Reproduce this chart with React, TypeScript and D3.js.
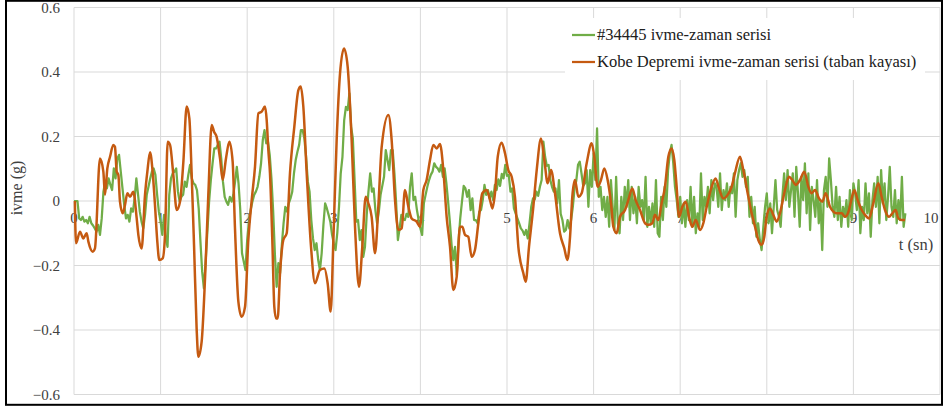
import React from "react";
import * as d3 from "d3";

// Record #34445 acceleration (g), sampled every 0.02 s from t = 0
const SAMPLE_STEP = 0.02;
const record34445 = [
  0.00, 0.00, 0.00, -0.054, -0.059, -0.049, -0.064, -0.059, -0.069, -0.049,
  -0.069, -0.076, -0.085, -0.095, -0.074, -0.105, -0.054, 0.029, 0.060, 0.039,
  0.070, 0.050, 0.034, 0.101, 0.070, 0.132, 0.143, 0.091, 0.039, -0.012,
  -0.054, -0.043, -0.064, -0.023, -0.033, 0.008, 0.070, 0.019, -0.033, -0.064,
  -0.085, -0.043, 0.019, 0.044, 0.070, 0.091, 0.101, 0.081, 0.019, -0.033,
  -0.064, -0.105, -0.043, -0.116, -0.142, 0.019, 0.070, 0.086, 0.091, 0.101,
  0.029, -0.002, 0.013, 0.019, 0.060, 0.044, 0.081, 0.112, 0.070, 0.055,
  0.050, 0.034, -0.023, -0.126, -0.219, -0.271, -0.188, -0.095, -0.002, 0.065,
  0.117, 0.163, 0.163, 0.174, 0.184, 0.132, 0.060, 0.013, -0.002, -0.012,
  0.013, -0.002, 0.019, 0.060, 0.106, 0.055, -0.028, -0.162, -0.188, -0.214,
  -0.121, -0.064, -0.028, -0.002, 0.019, 0.029, 0.044, 0.075, 0.117, 0.189,
  0.220, 0.179, 0.184, 0.143, 0.070, -0.033, -0.167, -0.266, -0.193, -0.224,
  -0.136, -0.069, -0.018, -0.033, -0.007, 0.008, 0.029, 0.086, 0.127, 0.153,
  0.174, 0.220, 0.220, 0.194, 0.137, 0.060, 0.029, -0.059, -0.116, -0.152,
  -0.131, -0.183, -0.214, -0.162, -0.074, -0.007, -0.023, -0.043, -0.064, -0.105,
  -0.131, -0.152, -0.100, -0.018, 0.086, 0.137, 0.251, 0.292, 0.282, 0.334,
  0.230, 0.194, 0.065, -0.064, -0.059, -0.121, -0.090, -0.173, -0.142, -0.043,
  0.029, 0.086, 0.029, 0.039, -0.028, -0.069, -0.033, 0.019, 0.047, 0.075,
  0.158, 0.127, 0.096, 0.158, 0.158, 0.086, -0.007, -0.121, -0.085, -0.043,
  -0.057, -0.059, -0.040, -0.049, 0.044, 0.086, 0.003, 0.013, -0.028, -0.059,
  -0.085, -0.105, -0.007, 0.019, 0.044, 0.065, 0.081, 0.091, 0.117, 0.106,
  0.101, 0.091, 0.112, 0.075, 0.101, 0.055, -0.002, -0.064, -0.136, -0.183,
  -0.142, -0.229, -0.126, -0.054, -0.002, 0.047, 0.039, 0.013, 0.034, -0.028,
  0.008, -0.059, -0.059, -0.069, -0.033, -0.028, 0.003, 0.050, 0.019, 0.034,
  0.008, 0.029, 0.003, 0.050, 0.034, 0.067, 0.047, 0.084, 0.070, 0.112,
  0.078, 0.081, 0.029, 0.039, -0.023, -0.038, -0.054, -0.069, -0.085, -0.092,
  -0.105, -0.090, -0.116, -0.069, -0.018, 0.008, 0.005, 0.029, 0.016, 0.044,
  0.065, 0.184, 0.137, 0.109, 0.112, 0.065, 0.044, 0.029, 0.039, -0.007,
  0.065, -0.040, -0.059, -0.095, -0.090, -0.059, -0.085, -0.059, -0.018, 0.039,
  0.063, 0.112, 0.122, 0.086, 0.047, 0.055, 0.096, -0.018, 0.096, 0.044,
  0.148, 0.065, 0.225, 0.013, 0.044, -0.028, 0.013, -0.049, 0.013, -0.080,
  0.065, -0.018, -0.090, 0.075, -0.069, -0.100, 0.013, -0.059, 0.044, -0.018,
  0.065, -0.059, 0.044, -0.038, 0.013, -0.069, 0.044, -0.018, 0.003, -0.059,
  0.075, -0.080, -0.018, -0.069, -0.007, -0.080, 0.065, -0.100, -0.111, 0.013,
  -0.059, 0.044, -0.018, 0.096, 0.148, 0.174, 0.117, 0.044, 0.003, -0.049,
  0.013, -0.069, -0.007, -0.080, 0.003, -0.059, 0.044, -0.080, 0.013, -0.100,
  -0.038, -0.080, 0.086, -0.059, 0.013, -0.018, 0.044, -0.038, 0.065, 0.003,
  0.055, 0.044, -0.018, 0.086, -0.028, 0.034, 0.003, 0.055, -0.018, 0.044,
  0.024, 0.086, -0.049, 0.065, 0.096, 0.117, 0.075, 0.096, 0.044, 0.075,
  -0.049, 0.013, -0.069, -0.018, -0.111, -0.069, -0.121, -0.152, -0.080, -0.018,
  0.024, -0.069, -0.007, -0.100, -0.018, 0.065, -0.028, -0.049, -0.080, 0.013,
  0.086, 0.003, 0.096, -0.018, 0.034, 0.086, -0.049, 0.106, 0.024, -0.080,
  0.075, 0.003, 0.117, -0.038, 0.086, -0.090, 0.044, 0.003, -0.049, 0.065,
  -0.069, 0.003, -0.152, 0.034, 0.075, -0.018, 0.132, 0.065, -0.018, -0.049,
  0.044, -0.059, 0.013, -0.080, -0.018, -0.049, 0.003, -0.080, 0.034, -0.059,
  0.055, 0.024, -0.028, 0.065, -0.100, -0.018, -0.059, 0.055, -0.038, 0.024,
  -0.111, 0.003, 0.055, -0.018, 0.075, -0.069, 0.096, -0.007, 0.055, -0.059,
  0.013, 0.106, -0.018, -0.049, 0.034, -0.069, 0.003, -0.059, 0.075, -0.080,
  -0.038,
];

// Kobe earthquake bedrock record: time (s) and acceleration (g)
const kobeTime = [
  0.01, 0.023, 0.069, 0.108, 0.146, 0.166, 0.216, 0.242, 0.300, 0.339,
  0.358, 0.385, 0.416, 0.454, 0.473, 0.493, 0.512, 0.531, 0.562, 0.589,
  0.616, 0.647, 0.685, 0.724, 0.743, 0.781, 0.820, 0.847, 0.878, 0.908,
  0.935, 0.962, 0.985, 1.024, 1.051, 1.082, 1.109, 1.147, 1.186, 1.224,
  1.263, 1.301, 1.332, 1.359, 1.386, 1.416, 1.436, 1.474, 1.513, 1.551,
  1.590, 1.617, 1.647, 1.686, 1.717, 1.755, 1.794, 1.832, 1.859, 1.898,
  1.936, 1.975, 2.013, 2.052, 2.090, 2.129, 2.167, 2.206, 2.225, 2.244,
  2.263, 2.290, 2.313, 2.333, 2.352, 2.379, 2.417, 2.456, 2.494, 2.544,
  2.591, 2.618, 2.648, 2.687, 2.737, 2.783, 2.840, 2.891, 2.929, 2.964,
  2.995, 3.033, 3.072, 3.118, 3.160, 3.206, 3.245, 3.291, 3.329, 3.368,
  3.399, 3.437, 3.476, 3.514, 3.553, 3.630, 3.668, 3.707, 3.745, 3.784,
  3.822, 3.861, 3.899, 3.957, 3.995, 4.034, 4.072, 4.111, 4.149, 4.188,
  4.226, 4.265, 4.303, 4.342, 4.380, 4.419, 4.457, 4.484, 4.515, 4.553,
  4.592, 4.630, 4.669, 4.715, 4.765, 4.804, 4.831, 4.861, 4.893, 4.938,
  4.977, 5.015, 5.054, 5.092, 5.131, 5.189, 5.216, 5.254, 5.304, 5.343,
  5.393, 5.431, 5.470, 5.508, 5.554, 5.612, 5.662, 5.697, 5.728, 5.754,
  5.785, 5.824, 5.862, 5.920, 5.978, 6.008, 6.047, 6.085, 6.124, 6.162,
  6.201, 6.228, 6.266, 6.305, 6.363, 6.401, 6.447, 6.486, 6.536, 6.594,
  6.632, 6.678, 6.709, 6.747, 6.786, 6.824, 6.863, 6.901, 6.932, 6.959,
  6.986, 7.025, 7.063, 7.102, 7.140, 7.179, 7.229, 7.267, 7.306, 7.363,
  7.409, 7.448, 7.498, 7.548, 7.594, 7.632, 7.690, 7.729, 7.787, 7.825,
  7.864, 7.902, 7.941, 7.971, 7.998, 8.037, 8.075, 8.114, 8.152, 8.210,
  8.256, 8.295, 8.333, 8.383, 8.433, 8.480, 8.518, 8.557, 8.603, 8.641,
  8.680, 8.730, 8.768, 8.807, 8.865, 8.903, 8.949, 8.980, 9.011, 9.049,
  9.096, 9.134, 9.180, 9.230, 9.288, 9.326, 9.365, 9.411, 9.450, 9.488,
  9.519, 9.557, 9.596,
];
const kobeAccel = [
  0.00, -0.131, -0.095, -0.116, -0.100, -0.126, -0.157, -0.147, 0.132, 0.091,
  0.019, 0.101, 0.137, 0.174, 0.168, 0.091, 0.081, -0.002, -0.038, -0.012,
  0.024, 0.013, 0.029, -0.054, -0.105, -0.147, 0.019, 0.091, 0.151, 0.091,
  -0.012, -0.126, -0.183, -0.178, -0.105, 0.184, 0.174, 0.081, -0.028, -0.002,
  0.122, 0.293, 0.256, 0.081, -0.136, -0.395, -0.483, -0.436, -0.240, 0.019,
  0.236, 0.215, 0.199, 0.132, 0.065, 0.132, 0.184, 0.122, -0.085, -0.312,
  -0.359, -0.328, -0.121, 0.003, 0.106, 0.272, 0.277, 0.293, 0.251, 0.158,
  0.086, -0.121, -0.328, -0.364, -0.364, -0.224, -0.121, -0.100, 0.086, 0.230,
  0.344, 0.355, 0.293, 0.086, -0.142, -0.255, -0.214, -0.209, -0.255, -0.343,
  -0.121, 0.189, 0.396, 0.473, 0.417, 0.189, -0.080, -0.266, -0.142, 0.013,
  -0.007, -0.049, -0.162, -0.018, 0.168, 0.267, 0.189, 0.003, -0.090, -0.085,
  0.034, -0.018, -0.054, -0.064, -0.080, 0.034, 0.065, 0.127, 0.174, 0.163,
  0.177, 0.096, -0.049, -0.142, -0.276, -0.235, -0.080, -0.080, -0.105, -0.111,
  -0.173, -0.152, -0.069, 0.024, 0.034, 0.003, -0.023, 0.024, 0.137, 0.181,
  0.148, 0.096, 0.075, 0.013, -0.142, -0.224, -0.250, -0.142, -0.018, 0.096,
  0.194, 0.127, 0.055, 0.096, 0.024, -0.100, -0.147, -0.183, -0.111, 0.013,
  0.065, 0.013, 0.024, 0.117, 0.179, 0.137, 0.044, 0.065, 0.101, 0.065,
  -0.007, -0.080, -0.100, -0.049, -0.028, 0.003, 0.039, 0.003, -0.028, -0.069,
  -0.074, -0.069, -0.043, -0.059, -0.007, 0.044, 0.137, 0.163, 0.127, 0.044,
  -0.049, -0.018, -0.002, -0.049, -0.080, -0.059, -0.090, -0.069, -0.018, 0.044,
  0.070, 0.039, 0.008, 0.019, 0.044, 0.086, 0.137, 0.096, 0.013, -0.038,
  -0.080, -0.121, -0.136, -0.111, -0.049, -0.023, -0.043, -0.064, -0.038, 0.034,
  0.075, 0.065, 0.050, 0.065, 0.091, 0.044, 0.024, 0.034, 0.008, -0.002,
  0.024, -0.018, -0.033, -0.038, -0.038, -0.049, -0.028, 0.008, 0.034, 0.003,
  -0.028, -0.043, -0.054, -0.007, 0.055, 0.013, -0.028, -0.049, -0.038, -0.028,
  -0.054, -0.059, -0.059,
];

const yTicks = [-0.6, -0.4, -0.2, 0, 0.2, 0.4, 0.6];
const xTicks = [0, 1, 2, 3, 4, 5, 6, 7, 8, 9, 10];
const legendLabels = [
  "#34445 ivme-zaman serisi",
  "Kobe Depremi ivme-zaman serisi (taban kayası)",
];
const yTitle = "ivme (g)";
const xTitle = "t (sn)";

const W = 944;
const H = 408;
const GREEN = "#70AD47";
const ORANGE = "#C55A11";
const GRID = "#D9D9D9";
const FONT = "'Liberation Serif', 'Times New Roman', serif";
const TEXT = "#404040";

export default function App() {
  const x = d3.scaleLinear().domain([0, 10]).range([74, 940]);
  const y = d3.scaleLinear().domain([-0.6, 0.6]).range([394.5, 7.5]);

  const greenLine = d3
    .line<[number, number]>()
    .x((d) => x(d[0]))
    .y((d) => y(d[1]));

  // the Kobe trace is a smoothed curve through its samples
  const kobeLine = d3
    .line<[number, number]>()
    .x((d) => x(d[0]))
    .y((d) => y(d[1]))
    .curve(d3.curveMonotoneX);

  const greenPts: [number, number][] = record34445.map((v, i) => [i * SAMPLE_STEP, v]);
  const kobePts: [number, number][] = kobeTime.map((t, i) => [t, kobeAccel[i]]);

  const fmtY = (v: number) => (v === 0 ? "0" : d3.format(".1f")(v));

  return (
    <svg
      width={W}
      height={H}
      viewBox={`0 0 ${W} ${H}`}
      style={{ position: "absolute", left: 0, top: 0, display: "block" }}
    >
      <rect x={0} y={0} width={W} height={H} fill="#fff" />

      {/* grid */}
      {yTicks.map((t) => (
        <line key={`gy${t}`} x1={x(0)} x2={x(10)} y1={y(t)} y2={y(t)} stroke={GRID} strokeWidth={1} />
      ))}
      {xTicks.map((t) => (
        <line key={`gx${t}`} x1={x(t)} x2={x(t)} y1={y(0.6)} y2={y(-0.6)} stroke={GRID} strokeWidth={1} />
      ))}

      {/* y tick labels */}
      {yTicks.map((t) => (
        <text
          key={`ly${t}`}
          x={60}
          y={y(t)}
          dy="0.35em"
          textAnchor="end"
          fontFamily={FONT}
          fontSize={15}
          fill={TEXT}
        >
          {fmtY(t)}
        </text>
      ))}

      {/* x tick labels sit just under the zero line; the last one is kept inside the frame */}
      {xTicks.map((t) => (
        <text
          key={`lx${t}`}
          x={t === 10 ? x(t) - 1.5 : x(t)}
          y={y(0) + 22}
          textAnchor={t === 10 ? "end" : "middle"}
          fontFamily={FONT}
          fontSize={15}
          fill={TEXT}
        >
          {t}
        </text>
      ))}

      {/* series */}
      <path d={greenLine(greenPts) ?? ""} fill="none" stroke={GREEN} strokeWidth={2.25} strokeLinejoin="round" />
      <path d={kobeLine(kobePts) ?? ""} fill="none" stroke={ORANGE} strokeWidth={2.5} strokeLinejoin="round" />

      {/* axis titles */}
      <text
        transform={`translate(22, 188) rotate(-90)`}
        textAnchor="middle"
        fontFamily={FONT}
        fontSize={16}
        fill={TEXT}
      >
        {yTitle}
      </text>
      <text x={916} y={250} textAnchor="middle" fontFamily={FONT} fontSize={16.5} fill={TEXT}>
        {xTitle}
      </text>

      {/* legend */}
      <rect x={565} y={18} width={360} height={62} fill="#fff" />
      {legendLabels.map((label, i) => (
        <g key={label} transform={`translate(572, ${35 + i * 27})`}>
          <line x1={0} x2={23} y1={0} y2={0} stroke={i === 0 ? GREEN : ORANGE} strokeWidth={2.25} />
          <text x={25} y={5} fontFamily={FONT} fontSize={16.5} fill="#202020">
            {label}
          </text>
        </g>
      ))}

      {/* frame */}
      <rect x={6} y={0.8} width={936} height={404} fill="none" stroke="#000" strokeWidth={2} />
    </svg>
  );
}
